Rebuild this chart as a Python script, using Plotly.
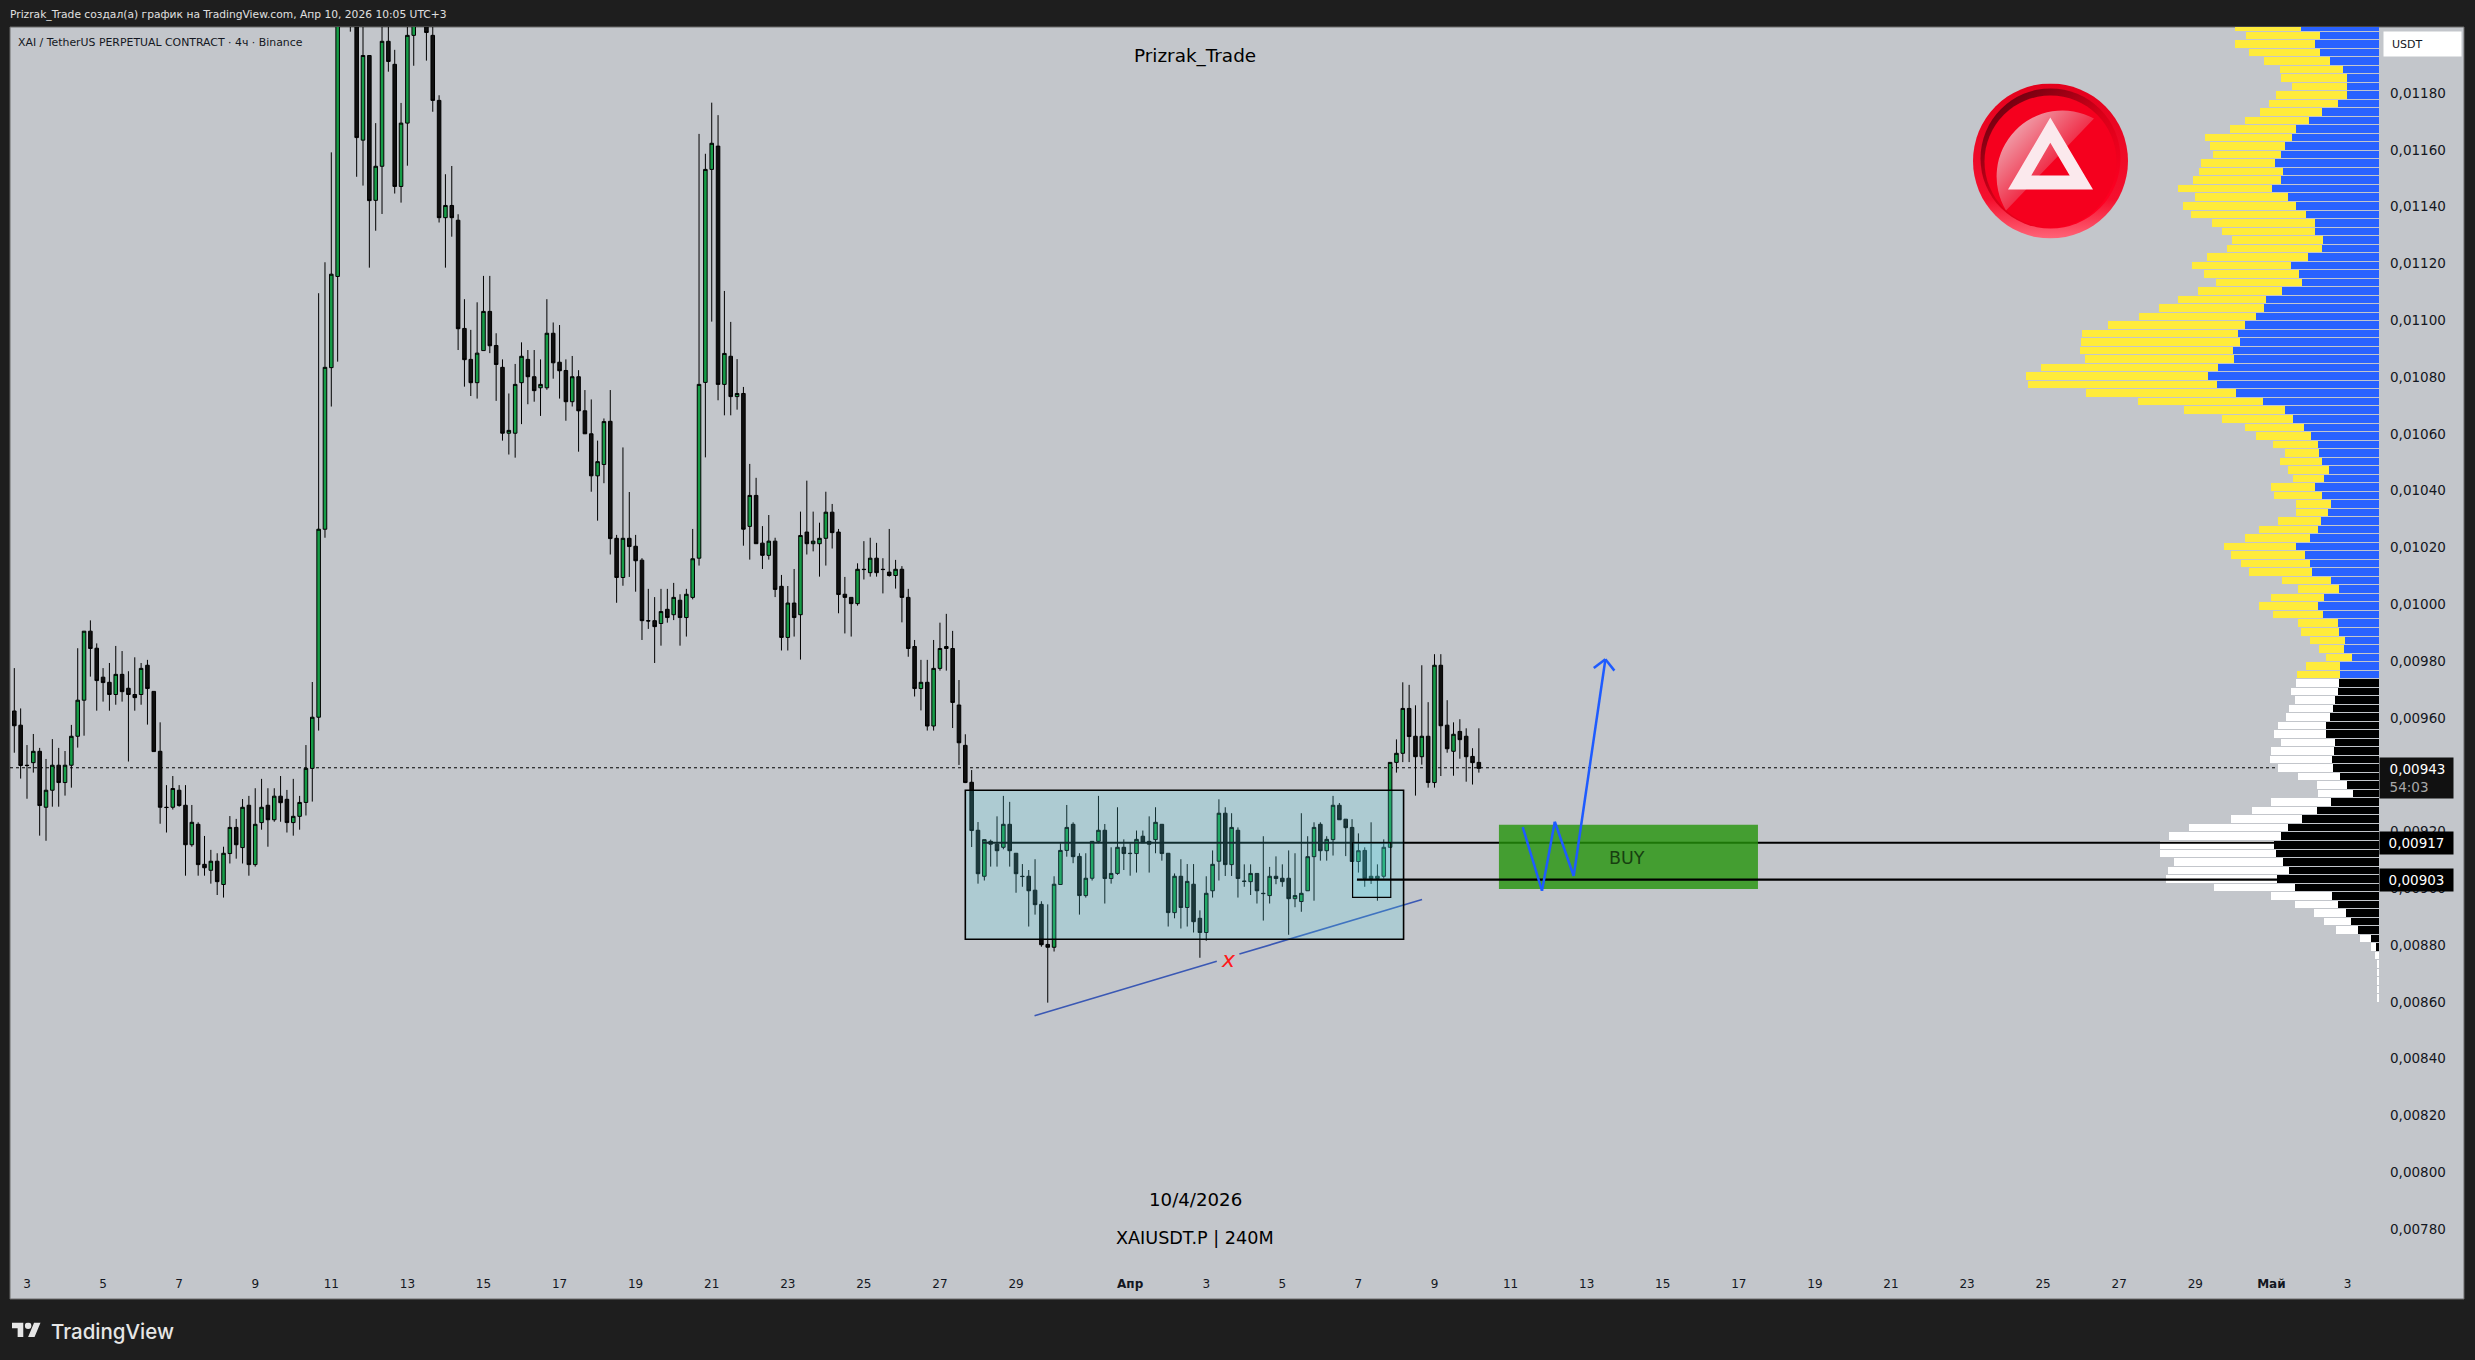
import base64
import pandas as pd
import plotly.graph_objects as go

# Prices are kept in units of 0.00001 USDT, so 943 is 0,00943 on the scale
first_candle = "2026-03-02 19:00"

opens = [
  962.4,957.4,943.3,944.2,948.2,928.5,934.5,943.3,937.2,943.3,953.5,966.2,990.5,984.5,974.3,972.5,
  968.2,975.3,970.4,968.2,968.2,978.5,969.3,948.2,928.5,928.5,934.5,929.2,915.3,922.5,908.4,906.3,
  909.5,901.3,912.2,921.4,914.3,929.2,908.3,923.1,929.2,924.1,932.4,931.3,923.1,925.3,930.2,942.2,
  960.2,1026.4,1083.3,1115.4,1240,1262,1235,1163.4,1193.2,1142.2,1154.2,1198.2,1190.1,1147.1,1169.4,1200.3,
  1215,1225,1200.3,1177.4,1136.1,1140.4,1135.2,1097.1,1086.2,1078,1089.3,1103.1,1091.1,1083.4,1060.2,1060.2,
  1078,1086.2,1080.1,1076.2,1076.2,1095.4,1085.2,1082.3,1071.3,1080.1,1068.1,1060,1045.2,1049.2,1064.4,1023.2,
  1009.4,1023.2,1020.4,1015.5,994.2,994.2,993.2,998.2,996.3,1001.4,995.3,1002.4,1016.2,1078.1,1153.1,1161.3,
  1077.4,1087.3,1073.1,1074.2,1027.4,1038.3,1021.5,1017.2,1022.2,1006.3,988.3,1000.4,996.3,1025.4,1021.3,1021.3,
  1023.2,1032.4,1025.4,1003.5,1002.4,1000.2,1012.3,1011.1,1016.2,1012.3,1011.3,1010.1,1012.3,1002.4,985.1,970.3,
  972.5,957.1,977.4,984.4,984.4,964.5,950.3,937.3,920.4,904.2,916.5,915.5,914.4,922.5,912.3,904.2,
  904.2,899.3,894.3,880.2,879.2,901.3,913.3,922.5,911.2,897.4,903.5,916.5,920.4,903.4,905.2,914.4,
  912.3,912.2,918.3,916.5,917.1,922.5,912.3,891.4,904.2,893.2,901.4,889.4,884.4,899.1,909.5,926.4,
  908.3,920.4,902.5,902.3,905.2,898.2,897.4,904.2,903.5,903.5,896.3,895.3,899.1,911.1,922.5,913.2,
  917.1,929.2,924.3,921.4,909.4,913.3,903.4,903.4,904.2,914.4,944.3,947.5,963.3,953.5,946.3,953.5,
  937.2,978.5,957.4,948.2,955.2,953.5,946.4,944.3,
]
highs = [
  977.5,963.3,950.4,954.3,949.4,945.5,952.5,949.4,948.3,957.5,984.5,990.5,994.3,986.2,977.5,979.3,
  985.3,983.5,976.4,981.3,979.3,980.4,969.3,958.4,936.3,939.5,936.3,936.3,929.3,923.2,918.4,913.5,
  912.3,914.6,925.4,924.4,931.4,932.5,935.2,938.5,935.2,935.2,939.5,934.6,938.5,932.5,950.4,972.6,
  1109.5,1120.4,1159.1,1260,1280,1280,1240,1210,1193.2,1169.4,1215,1210,1195.2,1176.5,1210,1225,
  1240,1235,1208,1179.2,1151.4,1154.3,1137.3,1107.4,1096.6,1106.3,1115.6,1115.6,1095.4,1086.2,1074.2,1084.6,
  1092.2,1089.5,1089.5,1086.2,1107.4,1099.2,1098.3,1086.2,1087.4,1082.4,1075.4,1072.1,1057.6,1065.4,1075.4,1024.4,
  1055.2,1039.5,1024.4,1016.2,1005.4,1002.5,1005.4,1005.4,1007.5,1003.5,1005.4,1026.5,1165.6,1158.6,1176.6,1172.2,
  1110.3,1099.4,1086.3,1076.5,1049.4,1044.5,1027.5,1031.4,1023.4,1010.3,1006.4,1012.4,1032.6,1043.5,1032.6,1028.7,
  1039.6,1035.3,1026.5,1009.6,1002.4,1014.4,1022.2,1023.4,1021.6,1016.2,1026.5,1015.6,1013.4,1005.4,987.4,980.4,
  980.4,987.4,993.5,996.6,990.6,973.3,954.2,941.6,923.3,917.1,917.1,925.3,932.5,930.4,912.3,908.5,
  906.4,910.2,895.4,894.3,904.2,915.8,929.3,923.2,912.3,912.3,916.5,932.5,922.6,914.4,928.5,917.2,
  915.8,920.3,920.3,925.3,928.5,922.5,912.3,905.2,910.2,908.5,908.5,892.2,904.2,913.3,931.3,928.5,
  926.4,921.4,908.4,908.4,905.2,918.3,907.5,911.2,908.4,913.3,912.3,926.4,918.3,923.2,923.2,918.3,
  932.5,930,924.3,924.3,919.3,914.4,923.2,908.4,917.2,944.3,952.4,972.5,971.6,964.4,978.5,965.5,
  982.4,982.4,966.2,958.4,959.5,956.3,949.3,956.3,
]
lows = [
  947.7,938.6,931.5,940.7,918.5,916.7,928.7,928.7,932.6,935.4,949.5,953.7,974.5,962.5,965.7,962.5,
  964.6,965.7,944.6,962.5,964.6,957.6,948.1,922.7,919.6,927.7,928.7,904.4,914.6,904.4,904.4,901.6,
  897.6,896.7,908.7,910.4,908.7,904.4,907.6,920.6,914.6,923.4,923.4,919.6,918.5,920.6,925.6,930.5,
  955.5,1023.4,1069.6,1085.4,1225,1201.6,1150.5,1147.4,1118.5,1131.5,1137.4,1187.5,1144.6,1141.4,1154.4,1189.6,
  1208,1191.4,1173.4,1134.4,1118.5,1129.4,1089.5,1076.6,1073.3,1072.4,1089.3,1088.4,1071.6,1057.6,1052.7,1051.6,
  1063.4,1070.4,1071.3,1066.3,1075.5,1079.4,1072.4,1064.6,1069.6,1053.7,1060,1039.6,1029.4,1042.6,1017.5,1000.5,
  1006.5,1009.6,1004.4,987.4,991.3,979.3,985.4,993.5,994.4,985.4,988.6,1001.7,1013.6,1051.7,1099.5,1071.8,
  1066.5,1066.5,1068.5,1020.6,1015.7,1021.3,1012.4,1015.7,1002.5,983.7,983.7,988.6,980.5,1017.5,1018.6,1009.7,
  1013.6,1019.6,996.8,989.7,988.6,999.5,1008.7,1009.7,1009.7,1003.8,1009.7,1005.5,993.6,981.5,967.5,962.6,
  955.5,955.5,976.6,976.6,956.4,943.4,937,914.5,901.6,902.7,907.6,907.6,913.7,907.6,898.4,900.5,
  886.5,890.7,879.4,859.7,877.7,901.3,911.1,908.8,890.7,896.7,902.7,915.8,894.6,901.6,904.7,906.4,
  904.4,905.5,916,905.5,912.3,909.7,886.5,889.4,885.8,886.5,884.4,875.5,881.5,896.7,902.7,904.3,
  904.3,896.7,900.5,897.6,894.6,888.6,894.6,901.4,900.5,883.6,893.3,891.7,899.1,895.6,909.7,909.7,
  911.5,924.1,911.3,909.4,905.5,900.5,901.5,895.6,903.4,914.4,940.7,944.4,944.4,932.6,943.5,935.4,
  935.4,939.5,947.7,939.6,945.6,937.5,936.5,940.7,
]
closes = [
  957.2,943.2,943.2,948.2,929.1,934.5,943.3,937.2,943.3,953.5,966.2,990.5,984.4,973.1,972.4,968.2,
  975.3,969.2,968.2,967.1,977.4,970.3,948.1,928.5,928.4,935.1,929.1,915.3,923.2,908.3,907.2,909.5,
  902.3,912.3,921.4,915.3,928.5,908.3,922.5,928.5,924.1,932.4,930.1,923.1,925.3,930.2,942.2,960.2,
  1026.4,1083.4,1116.2,1240,1262,1235,1164.3,1193.2,1142.1,1154.2,1198.2,1191.1,1147.1,1169.4,1200.3,1215,
  1230,1201.3,1177.4,1136.1,1140.4,1136.1,1097,1086.1,1078,1088.4,1103.1,1091,1084.4,1060.2,1061.2,1077.4,
  1087.3,1080.1,1075.2,1077.4,1095.4,1085,1082.2,1071.3,1080.1,1068.1,1060,1045.2,1050.2,1064.3,1023.1,1009.4,
  1023.2,1020.3,1015.3,994.2,994.1,992.1,997.4,995.3,1002.4,995.3,1003.5,1016,1077.4,1153.1,1162.3,1077.4,
  1088.3,1073.1,1074.2,1026.4,1038.3,1021.3,1017.2,1022.2,1005.2,988.3,1000.4,995.3,1024.2,1021.3,1022.2,1023.2,
  1032.4,1025.2,1003.4,1002.4,1000.2,1012.3,1012.2,1016.2,1011.1,1012.2,1010.1,1012.3,1002.4,984.4,970.3,972.5,
  957.1,977.4,984.4,985.1,965.4,951.2,937.2,920.3,905.1,917.1,915.5,913.2,922.5,913.2,905.1,904.1,
  899.1,894.2,880.1,879.2,901.4,913.3,921.4,911.1,897.4,903.5,916.5,920.4,903.4,905.2,914.4,912.2,
  912.2,917.2,916,915.5,923.2,912.2,891.4,904.2,893.2,902.4,888.2,884.4,898.2,908.4,926.4,908.3,
  921.4,903.4,902.4,905.2,899.1,898.1,904.2,903.4,902.3,896.3,897.4,898.2,911.1,921.4,913.2,917.2,
  929.2,924.1,921.3,909.4,913.2,903.4,904.2,904.2,914.4,944.3,947.5,963.3,953.4,946.3,953.5,937.2,
  978.5,957.2,949.1,954.2,952.3,946.3,944.2,942.2,
]

# Volume profile rows, top of the chart downwards
upper_levels = [
  1203.3,1200.3,1197.3,1194.3,1191.3,1188.3,1185.3,1182.3,1179.3,1176.3,1173.3,1170.3,1167.3,1164.3,1161.3,1158.3,
  1155.3,1152.3,1149.3,1146.3,1143.3,1140.3,1137.3,1134.3,1131.3,1128.3,1125.3,1122.3,1119.3,1116.3,1113.3,1110.3,
  1107.3,1104.3,1101.3,1098.3,1095.3,1092.3,1089.3,1086.3,1083.3,1080.3,1077.3,1074.3,1071.3,1068.3,1065.3,1062.3,
  1059.3,1056.3,1053.3,1050.3,1047.3,1044.3,1041.3,1038.3,1035.3,1032.3,1029.3,1026.3,1023.3,1020.3,1017.3,1014.3,
  1011.3,1008.3,1005.3,1002.3,999.3,996.3,993.3,990.3,987.3,984.3,981.3,978.3,975.3,
]
blue_volume = [
  78,59,64,59,49,36,32,32,32,41,57,70,83,87,94,98,
  104,96,98,107,91,83,73,64,64,56,57,71,88,80,77,97,
  113,115,123,134,141,139,146,145,161,171,162,143,116,94,86,75,
  68,61,60,57,50,55,64,57,48,51,58,61,69,83,74,69,
  67,48,40,55,61,56,41,40,34,35,27,39,39,
]
yellow_volume = [
  66,74,80,71,66,63,66,55,71,69,62,64,66,87,75,68,
  74,84,88,94,93,113,115,103,93,91,95,101,99,95,86,84,
  88,105,117,137,156,159,153,149,177,182,189,150,125,101,71,59,
  55,45,34,42,41,31,44,48,35,32,43,59,65,72,74,69,
  63,49,41,53,59,50,40,38,35,25,26,34,43,
]
lower_levels = [
  972.3,969.3,966.3,963.3,960.3,957.3,954.3,951.3,948.3,945.3,942.3,939.3,936.3,933.3,930.3,927.3,
  924.3,921.3,918.3,915.3,912.3,909.3,906.3,903.3,900.3,897.3,894.3,891.3,888.3,885.3,882.3,879.3,
  876.3,873.3,870.3,867.3,864.3,861.3,
]
black_volume = [
  40,41,44,46,49,53,53,44,45,47,46,39,32,26,48,62,
  77,91,98,105,103,96,90,102,84,47,41,33,28,21,8,3,
  0,0,0,0,0,0,
]
white_volume = [
  43,47,40,44,44,48,52,54,63,62,55,42,30,35,60,65,
  71,99,112,114,116,109,121,111,81,61,43,32,27,22,11,5,
  4,2,2,2,2,2,
]

# 0,00940 sits behind the last price box, so it is left out
price_ticks = [780,800,820,840,860,880,900,920,960,980,1000,1020,1040,1060,1080,1100,1120,1140,1160,1180]
price_labels = ["0,00780","0,00800","0,00820","0,00840","0,00860","0,00880","0,00900","0,00920","0,00960",
  "0,00980","0,01000","0,01020","0,01040","0,01060","0,01080","0,01100","0,01120","0,01140","0,01160","0,01180"]

date_ticks = ["03-03","03-05","03-07","03-09","03-11","03-13","03-15","03-17","03-19","03-21","03-23","03-25","03-27","03-29",
  "04-01","04-03","04-05","04-07","04-09","04-11","04-13","04-15","04-17","04-19","04-21","04-23","04-25","04-27","04-29",
  "05-01","05-03"]
date_labels = ["3","5","7","9","11","13","15","17","19","21","23","25","27","29",
  "<b>Апр</b>","3","5","7","9","11","13","15","17","19","21","23","25","27","29",
  "<b>Май</b>","3"]

# Drawings on the chart
forecast_t = ["2026-04-11 10:40","2026-04-11 22:50","2026-04-12 06:55","2026-04-12 18:50","2026-04-13 14:50"]
forecast_p = [921.5,899.1,923.4,904.3,980.6]
arrow_t = ["2026-04-13 07:30","2026-04-13 14:50","2026-04-13 20:30"]
arrow_p = [977.5,980.6,976.6]
trend_t = ["2026-03-29 14:40","2026-04-03 09:40",None,"2026-04-03 23:55","2026-04-08 19:10"]
trend_p = [855.1,874.3,None,876.8,896.0]

BG = "#c3c6cb"
DARK = "#1e1e1e"
FONT = "DejaVu Sans"
ARROW = "#1e5bff"

# chart frame in page pixels
L, R, T, B = 10, 2379, 27, 1299


def px(x):
  return (x - L) / (R - L)


def py(y):
  return (B - y) / (B - T)


def note(text, x, y, size, color="#000000", anchor="center", **kw):
  return dict(text=text, xref="paper", yref="paper", x=px(x), y=py(y), xanchor=anchor, yanchor="middle",
              showarrow=False, font=dict(family=FONT, size=size, color=color), **kw)


def svg_uri(svg):
  return "data:image/svg+xml;base64," + base64.b64encode(svg.encode()).decode()


badge = """<svg xmlns="http://www.w3.org/2000/svg" viewBox="0 0 155 155">
<defs>
<linearGradient id="a" x1="0" y1="0" x2="0" y2="1"><stop offset="0" stop-color="#e4001c"/><stop offset="0.75" stop-color="#f5102e"/><stop offset="1" stop-color="#ff6478"/></linearGradient>
<linearGradient id="b" x1="0.15" y1="0.1" x2="0.8" y2="0.9"><stop offset="0" stop-color="#6e0010"/><stop offset="0.5" stop-color="#d80018"/><stop offset="1" stop-color="#ff0022"/></linearGradient>
<linearGradient id="c" x1="0.1" y1="0.1" x2="0.6" y2="0.6"><stop offset="0" stop-color="#f0b4bc"/><stop offset="1" stop-color="#f0203c"/></linearGradient>
</defs>
<circle cx="77.5" cy="77.5" r="77.5" fill="url(#a)"/>
<circle cx="77.5" cy="75" r="70" fill="url(#b)"/>
<circle cx="77.5" cy="78" r="66" fill="#f5001e"/>
<path d="M121 35 A66 66 0 0 0 33 127 Z" fill="url(#c)"/>
<path d="M77.3 34 L120 106 L35 106 Z M77.3 59.3 L58.3 92 L96.7 92 Z" fill="#fbe9ed" fill-rule="evenodd"/>
</svg>"""

tv_logo = """<svg xmlns="http://www.w3.org/2000/svg" viewBox="0 4 36 18">
<path d="M14 22H7V11H0V4h14v18zM28 22h-8l7.5-18h8L28 22z" fill="#e6e6e6"/><circle cx="20" cy="8" r="4" fill="#e6e6e6"/>
</svg>"""

times = pd.date_range(first_candle, periods=len(opens), freq="4h")

fig = go.Figure()
fig.add_trace(go.Candlestick(
  x=times, open=opens, high=highs, low=lows, close=closes,
  increasing=dict(fillcolor="#169c47", line=dict(color="#000000", width=1)),
  decreasing=dict(fillcolor="#0f0f0f", line=dict(color="#000000", width=1)),
  whiskerwidth=0, showlegend=False, hoverinfo="skip",
))

for levels, values, colour in [(upper_levels, blue_volume, "#2962ff"), (upper_levels, yellow_volume, "#ffeb3b"),
                               (lower_levels, black_volume, "#000000"), (lower_levels, white_volume, "#ffffff")]:
  fig.add_trace(go.Bar(x=values, y=levels, orientation="h", xaxis="x2", width=2.65,
                       marker=dict(color=colour, line=dict(width=0)), showlegend=False, hoverinfo="skip"))

fig.add_trace(go.Scatter(x=trend_t, y=trend_p, mode="lines", line=dict(color="#3a58b4", width=1.6), showlegend=False))

shapes = [
  dict(type="rect", xref="paper", yref="paper", x0=0, x1=px(2464), y0=0, y1=1, layer="below",
       fillcolor=BG, line=dict(color="#6a6a6a", width=1)),
  dict(type="line", xref="paper", x0=0, x1=1, yref="y", y0=942.4, y1=942.4, layer="below",
       line=dict(color="#000000", width=1, dash="dot")),
  dict(type="line", x0="2026-03-28 05:50", x1="2026-05-03 22:54", y0=916, y1=916, line=dict(color="#000000", width=2.2)),
  dict(type="rect", x0="2026-03-27 19:00", x1="2026-04-08 07:30", y0=882, y1=934.5,
       fillcolor="rgba(85,223,238,0.2)", line=dict(color="#000000", width=1.6)),
  dict(type="rect", x0="2026-04-06 23:20", x1="2026-04-07 23:25", y0=896.8, y1=916,
       fillcolor="rgba(85,223,238,0.2)", line=dict(color="#000000", width=1.2)),
  dict(type="rect", x0="2026-04-10 19:40", x1="2026-04-17 15:05", y0=899.7, y1=922.3,
       fillcolor="rgba(36,148,10,0.8)", line=dict(width=0)),
  dict(type="line", x0="2026-04-07 02:05", x1="2026-05-03 22:54", y0=903, y1=903, line=dict(color="#000000", width=2.2)),
]

# the blue forecast has to sit on top of the BUY box, so it goes in as line shapes
for ts, ps in [(forecast_t, forecast_p), (arrow_t, arrow_p)]:
  for i in range(len(ts) - 1):
    shapes.append(dict(type="line", x0=ts[i], x1=ts[i + 1], y0=ps[i], y1=ps[i + 1], line=dict(color=ARROW, width=2.5)))

annotations = [
  note("Prizrak_Trade создал(а) график на TradingView.com, Апр 10, 2026 10:05 UTC+3", 8, 15, 10.7, "#e0e0e0", "left"),
  note("XAI / TetherUS PERPETUAL CONTRACT · 4ч · Binance", 16, 42, 10.9, "#131722", "left"),
  note("Prizrak_Trade", 1195, 56, 18.4),
  note("10/4/2026", 1195, 1199, 18.2),
  note("XAIUSDT.P | 240M", 1195, 1238, 17.6),
  dict(text="TradingView", xref="paper", yref="paper", x=px(49), y=py(1331), xanchor="left", yanchor="middle", showarrow=False,
       font=dict(family="Inter", size=20.5, weight=500, color="#e6e6e6")),
  note("&nbsp;&nbsp;USDT", 2422, 44, 11, "#131722", "center", width=75, height=22, bgcolor="#ffffff", align="left"),
  dict(text="BUY", x="2026-04-14 04:30", y=910.6, showarrow=False, font=dict(family=FONT, size=17.5, color="#173f10")),
  dict(text="<i>x</i>", x="2026-04-03 16:55", y=875, showarrow=False, font=dict(family=FONT, size=22, color="#ff1a1a")),
  note("&nbsp;&nbsp;0,00943<br>&nbsp;&nbsp;<span style='color:#a8a8a8'>54:03</span>", 2416.5, 778, 13.5, "#ffffff",
       "center", width=71, height=38, bgcolor="#111111", align="left"),
  note("0,00917", 2416.5, 843.3, 13.5, "#ffffff", "center", width=71, height=20, bgcolor="#000000"),
  note("0,00903", 2416.5, 880.3, 13.5, "#ffffff", "center", width=71, height=20, bgcolor="#000000"),
]

images = [
  dict(source=svg_uri(badge), xref="paper", yref="paper", x=px(1973), y=py(83.5), sizex=155 / (R - L), sizey=155 / (B - T),
       xanchor="left", yanchor="top", sizing="stretch", layer="above"),
  dict(source=svg_uri(tv_logo), xref="paper", yref="paper", x=px(12), y=py(1322.5), sizex=29 / (R - L), sizey=14.5 / (B - T),
       xanchor="left", yanchor="top", sizing="stretch", layer="above"),
]

fig.update_layout(
  width=2475, height=1360, autosize=False,
  margin=dict(l=L, r=2475 - R, t=T, b=1360 - B, pad=0),
  paper_bgcolor=DARK, plot_bgcolor=BG,
  barmode="stack", boxgap=0.2, dragmode=False,
  shapes=shapes, annotations=annotations, images=images,
  font=dict(family=FONT, color="#131722"),
  xaxis=dict(
    type="date", range=["2026-03-02 16:17", "2026-05-03 22:54"],
    tickmode="array", tickvals=["2026-" + d + " 03:00" for d in date_ticks], ticktext=date_labels,
    ticklabelposition="inside", ticklabelstandoff=6, tickfont=dict(family=FONT, size=12, color="#131722"),
    showgrid=False, zeroline=False, showline=False, ticks="", rangeslider=dict(visible=False),
  ),
  xaxis2=dict(overlaying="x", anchor="y", range=[R - L, 0], visible=False, fixedrange=True),
  yaxis=dict(
    side="right", range=[755.35, 1203.24],
    tickmode="array", tickvals=price_ticks, ticktext=price_labels,
    tickfont=dict(family=FONT, size=13.5, color="#131722"),
    ticklabelstandoff=10, showgrid=False, zeroline=False, showline=False, ticks="",
  ),
)

# the browser's default body margin would push the chart off the window
fig.write_html("out.html", config=dict(displayModeBar=False),
               post_script="document.body.style.margin='0';document.body.style.background='#1e1e1e';")
